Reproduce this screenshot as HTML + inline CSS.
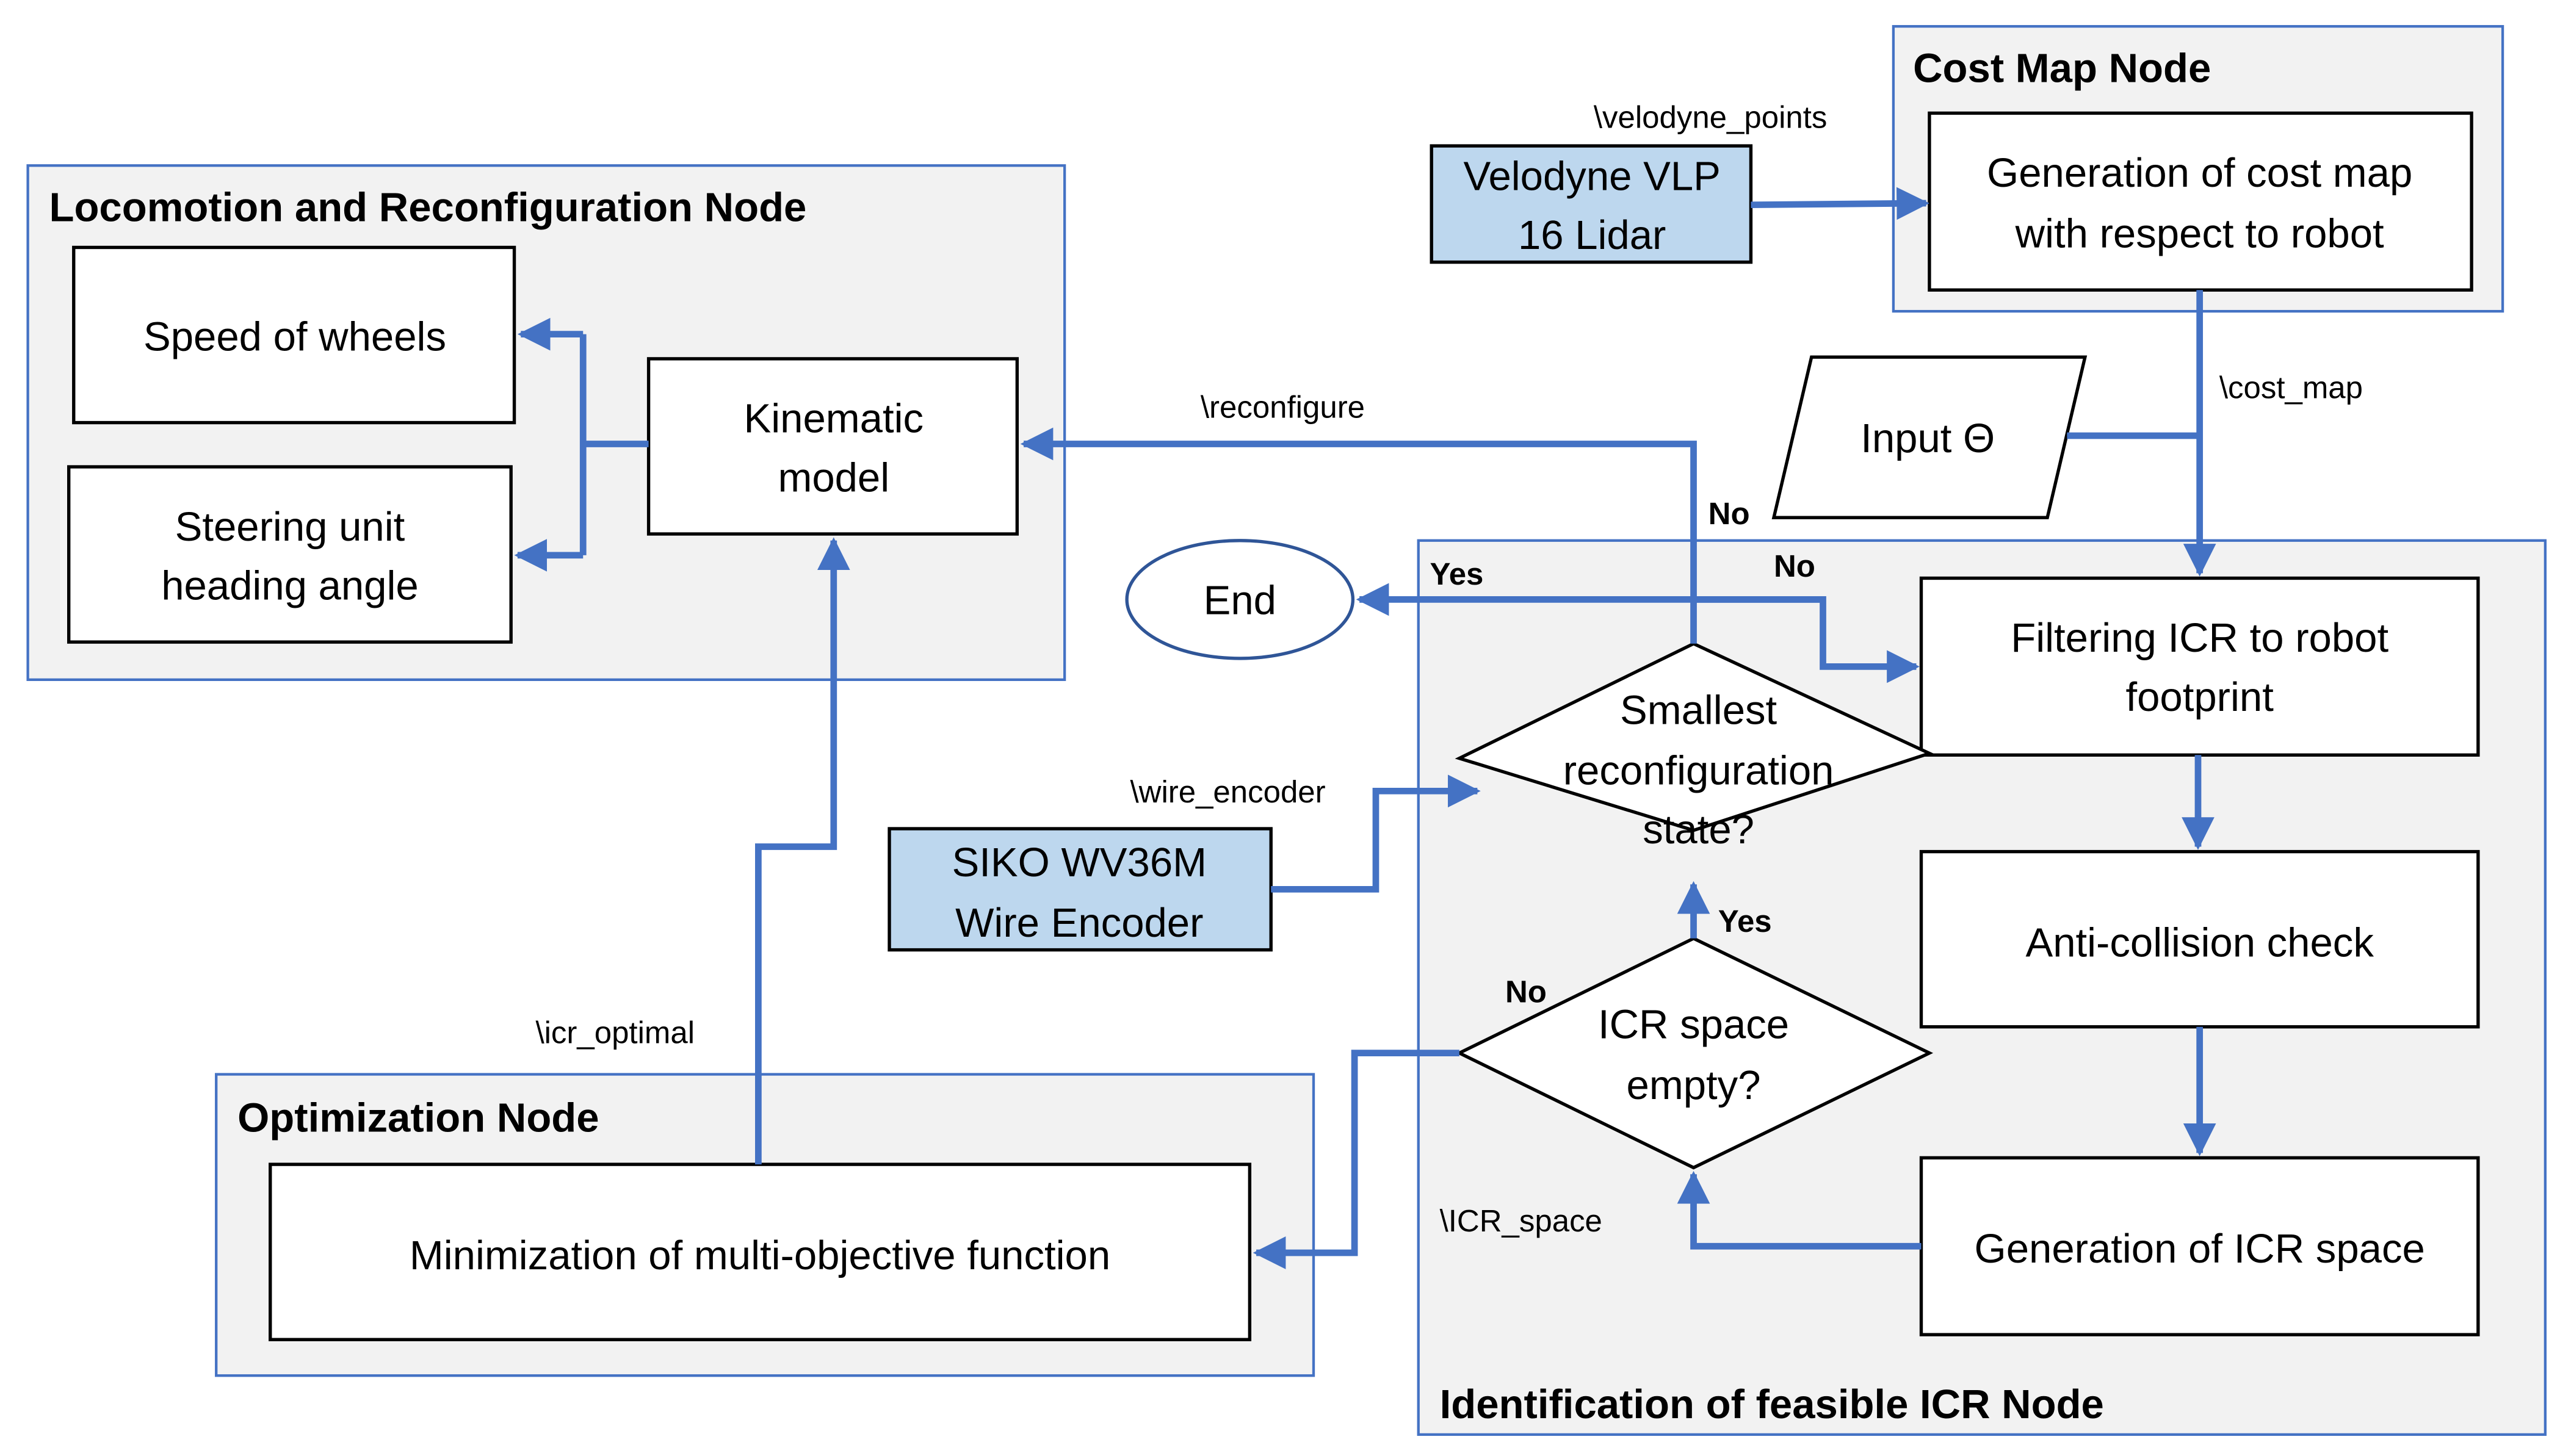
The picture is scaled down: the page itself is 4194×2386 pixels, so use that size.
<!DOCTYPE html>
<html><head><meta charset="utf-8"><style>html,body{margin:0;padding:0;background:#fff}svg{display:block}</style></head>
<body>
<svg width="4194" height="2386" viewBox="0 0 1563 889" xmlns="http://www.w3.org/2000/svg" font-family="Liberation Sans, sans-serif">
<defs>
<marker id="a" markerWidth="6" markerHeight="6" refX="4.5" refY="3" orient="auto" markerUnits="strokeWidth"><path d="M0,0.5 L5,3 L0,5.5 Z" fill="#4472c4"/></marker>
</defs>
<rect width="1563" height="889" fill="#fff"/>
<g fill="#f2f2f2" stroke="#4472c4" stroke-width="1.6">
<rect x="17" y="101" width="633" height="314"/>
<rect x="1156" y="16" width="372" height="174"/>
<rect x="866" y="330" width="688" height="546"/>
<rect x="132" y="656" width="670" height="184"/>
</g>
<g font-weight="bold" font-size="25" fill="#000">
<text x="30" y="135">Locomotion and Reconfiguration Node</text>
<text x="1168" y="50">Cost Map Node</text>
<text x="879" y="866">Identification of feasible ICR Node</text>
<text x="145" y="691">Optimization Node</text>
</g>
<g fill="#fff" stroke="#000" stroke-width="2">
<rect x="45" y="151" width="269" height="107"/>
<rect x="42" y="285" width="270" height="107"/>
<rect x="396" y="219" width="225" height="107"/>
<rect x="1178" y="69" width="331" height="108"/>
<rect x="1173" y="353" width="340" height="108"/>
<rect x="1173" y="520" width="340" height="107"/>
<rect x="1173" y="707" width="340" height="108"/>
<rect x="165" y="711" width="598" height="107"/>
<polygon points="1106,218 1273,218 1250,316 1083,316"/>
<polygon points="1034,393 1178,460 1034,507 891,463"/>
<polygon points="1034,573 1178,643 1034,713 891,643"/>
<ellipse cx="757" cy="366" rx="69" ry="36" stroke="#2f5597"/>
</g>
<g fill="#bdd7ee" stroke="#000" stroke-width="2">
<rect x="874" y="89" width="195" height="71"/>
<rect x="543" y="506" width="233" height="74"/>
</g>
<g fill="none" stroke="#4472c4" stroke-width="4">
<path d="M396,271 H356"/>
<path d="M356,204 V339"/>
<path d="M356,204 H318" marker-end="url(#a)"/>
<path d="M356,339 H316" marker-end="url(#a)"/>
<path d="M1034,393 V271 H625" marker-end="url(#a)"/>
<path d="M1069,125 L1176,124" marker-end="url(#a)"/>
<path d="M1343,177 V350" marker-end="url(#a)"/>
<path d="M1262,266 H1343"/>
<path d="M1342,461 V517" marker-end="url(#a)"/>
<path d="M1343,627 V704" marker-end="url(#a)"/>
<path d="M1173,761 H1034 V717" marker-end="url(#a)"/>
<path d="M1034,573 V540" marker-end="url(#a)"/>
<path d="M891,643 H827 V765 H767" marker-end="url(#a)"/>
<path d="M1111,366 H830" marker-end="url(#a)"/>
<path d="M1034,366 H1113 V407 H1170" marker-end="url(#a)"/>
<path d="M776,543 H840 V483 H902" marker-end="url(#a)"/>
<path d="M463,711 V517 H509 V330" marker-end="url(#a)"/>
</g>
<g font-size="25" fill="#000" text-anchor="middle">
<text x="180" y="214">Speed of wheels</text>
<text x="177" y="330">Steering unit</text>
<text x="177" y="366">heading angle</text>
<text x="509" y="264">Kinematic</text>
<text x="509" y="300">model</text>
<text x="1343" y="114">Generation of cost map</text>
<text x="1343" y="151">with respect to robot</text>
<text x="972" y="116">Velodyne VLP</text>
<text x="972" y="152">16 Lidar</text>
<text x="1177" y="276">Input Θ</text>
<text x="1343" y="398">Filtering ICR to robot</text>
<text x="1343" y="434">footprint</text>
<text x="1343" y="584">Anti-collision check</text>
<text x="1343" y="771">Generation of ICR space</text>
<text x="464" y="775">Minimization  of multi-objective function</text>
<text x="1037" y="442">Smallest</text>
<text x="1037" y="479">reconfiguration</text>
<text x="1037" y="515">state?</text>
<text x="1034" y="634">ICR space</text>
<text x="1034" y="671">empty?</text>
<text x="757" y="375">End</text>
<text x="659" y="535">SIKO WV36M</text>
<text x="659" y="572">Wire Encoder</text>
</g>
<g font-size="19" fill="#000">
<text x="973" y="78">\velodyne_points</text>
<text x="1355" y="243">\cost_map</text>
<text x="733" y="255">\reconfigure</text>
<text x="690" y="490">\wire_encoder</text>
<text x="879" y="752">\ICR_space</text>
<text x="327" y="637">\icr_optimal</text>
</g>
<g font-size="19" font-weight="bold" fill="#000">
<text x="1043" y="320">No</text>
<text x="873" y="357">Yes</text>
<text x="1083" y="352">No</text>
<text x="1049" y="569">Yes</text>
<text x="919" y="612">No</text>
</g>
</svg>
</body></html>
